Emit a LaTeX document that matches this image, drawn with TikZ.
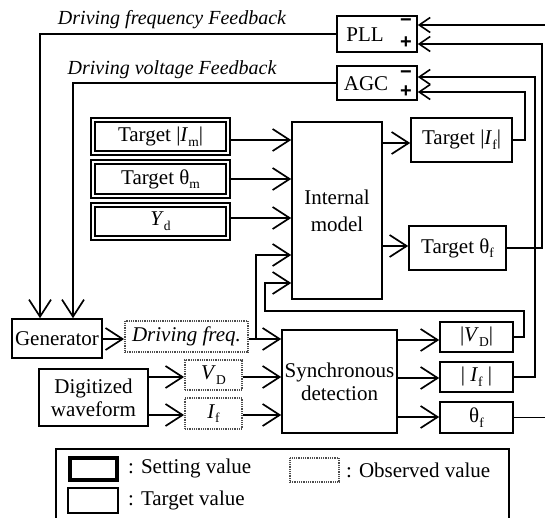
\documentclass[tikz,border=0pt]{standalone}
\usepackage{fontspec}
\setmainfont{Liberation Serif}
\setsansfont{Liberation Sans}
\usetikzlibrary{arrows.meta}
\newcommand{\lsub}[1]{\raisebox{-0.22em}{\fontsize{13.5}{13.5}\selectfont #1}}
\begin{document}
\begin{tikzpicture}[x=1pt,y=-1pt,
  every node/.style={font=\fontsize{21}{23}\selectfont, inner sep=0pt},
  plain/.style={draw, line width=1.6pt},
  setting/.style={draw, line width=1.7pt, double, double distance=1.8pt},
  observed/.style={draw=black!70, line width=1.8pt, dash pattern=on 1pt off 0.8pt},
  legendset/.style={draw, line width=3.8pt},
  arr/.style={line width=1.6pt, -{Straight Barb[length=17pt,width=22pt,line width=1.7pt]}},
  sarr/.style={line width=1.6pt, -{Straight Barb[length=11pt,width=15pt,line width=1.6pt]}},
  sign/.style={font=\fontsize{20}{20}\selectfont\sffamily\bfseries},
  lab/.style={font=\fontsize{20}{23}\selectfont\itshape}]
\useasboundingbox (0,0) rectangle (545,518);
\clip (0,0) rectangle (545,518);

% feedback labels
\node[lab] (lf) at (172,20) {Driving frequency Feedback};
\node[lab] (lv) at (172,70) {Driving voltage Feedback};

% PLL and AGC
\node[plain, minimum width=80, minimum height=36] (PLL) at (377,34) {};
\node (PLLt) at (365,35) {PLL};
\node[sign] (PLLm) at (406,23) {−};
\node[sign] (PLLp) at (406,43) {+};
\node[plain, minimum width=80, minimum height=34] (AGC) at (377,83) {};
\node (AGCt) at (366,84) {AGC};
\node[sign] (AGCm) at (406,75) {−};
\node[sign] (AGCp) at (406,92) {+};

% setting values
\node[setting, minimum width=135, minimum height=33] (Im) at (160.5,136.5) {Target |\textit{I}\lsub{m}|};
\node[setting, minimum width=135, minimum height=34] (Thm) at (160.5,179) {Target θ\lsub{m}};
\node[setting, minimum width=135, minimum height=33] (Yd) at (160.5,221.5) {\textit{Y}\lsub{d}};

% internal model
\node[plain, minimum width=90, minimum height=177, align=center] (IM) at (337,210.5) {Internal\\[4pt]model};

% target values
\node[plain, minimum width=101, minimum height=44] (TIf) at (461.5,140) {Target |\textit{I}\lsub{f}|};
\node[plain, minimum width=97, minimum height=44] (Tthf) at (457.5,248) {Target θ\lsub{f}};

% generator etc.
\node[plain, minimum width=90, minimum height=39] (Gen) at (57,338.5) {Generator};
\node[observed, minimum width=123, minimum height=31] (DF) at (186.5,336.5) {\textit{Driving freq.}};
\node[plain, minimum width=109, minimum height=57, align=center] (Dig) at (93.5,397.5) {Digitized\\waveform};
\node[observed, minimum width=57, minimum height=30] (VD) at (213.5,375) {\textit{V}\lsub{D}};
\node[observed, minimum width=57, minimum height=31] (If) at (213.5,413.5) {\textit{I}\lsub{f}};
\node[plain, minimum width=115, minimum height=103, align=center] (SD) at (339.5,381.5) {Synchronous\\detection};
\node[plain, minimum width=73, minimum height=30] (VD2) at (476.5,337) {|\textit{V}\lsub{D}|};
\node[plain, minimum width=73, minimum height=30] (If2) at (476.5,377) {| \textit{I}\lsub{f} |};
\node[plain, minimum width=73, minimum height=31] (thf) at (476.5,417.5) {θ\lsub{f}};

% connectors: feedback to generator
\draw[arr] (PLL.west) -| ([xshift=-17pt]Gen.north);
\draw[arr] (AGC.west) -| ([xshift=16pt]Gen.north);

% setting values into internal model
\draw[arr] (Im.east |- 0,140) -- (IM.west |- 0,140);
\draw[arr] (Thm.east |- 0,179) -- (IM.west |- 0,179);
\draw[arr] (Yd.east |- 0,218) -- (IM.west |- 0,218);

% internal model outputs
\draw[arr] (IM.east |- 0,143) -- (TIf.west |- 0,143);
\draw[arr] (IM.east |- 0,246) -- (Tthf.west |- 0,246);

% to PLL / AGC
\draw[sarr] (TIf.east) -| (525,92) -- (AGC.east |- 0,92);
\draw[sarr] (If2.east) -| (535,77) -- (AGC.east |- 0,77);
\draw[sarr] (Tthf.east) -| (542,44) -- (PLL.east |- 0,44);
\draw[sarr] (thf.east) -| (550,25) -- (PLL.east |- 0,25);

% |VD| feedback into internal model
\draw[arr] (VD2.east) -| (524,311) -| (265,283) -- (IM.west |- 0,283);

% generator chain
\draw[arr] (Gen.east |- 0,339) -- (DF.west |- 0,339);
\draw[arr] (DF.east |- 0,339) -- (SD.west |- 0,339);
\coordinate (br) at (256,339);
\draw[arr] (br) |- (IM.west |- 0,255);

\draw[arr] (Dig.east |- 0,377) -- (VD.west |- 0,377);
\draw[arr] (Dig.east |- 0,415) -- (If.west |- 0,415);
\draw[arr] (VD.east |- 0,377) -- (SD.west |- 0,377);
\draw[arr] (If.east |- 0,415) -- (SD.west |- 0,415);

\draw[arr] (SD.east |- 0,340) -- (VD2.west |- 0,340);
\draw[arr] (SD.east |- 0,378) -- (If2.west |- 0,378);
\draw[arr] (SD.east |- 0,417) -- (thf.west |- 0,417);

% legend
\node[plain, minimum width=453, minimum height=90, anchor=north west] (legend) at (55,448) {};
\node[legendset, minimum width=47, minimum height=22] (lset) at (93.5,469) {};
\node[anchor=west] (lsett) at (128,468) {: Setting value};
\node[plain, minimum width=50, minimum height=25] (ltar) at (93,500.5) {};
\node[anchor=west] (ltart) at (128,500) {: Target value};
\node[observed, minimum width=49, minimum height=24] (lobs) at (314.5,470) {};
\node[anchor=west] (lobst) at (346,470) {: Observed value};
\end{tikzpicture}
\end{document}
